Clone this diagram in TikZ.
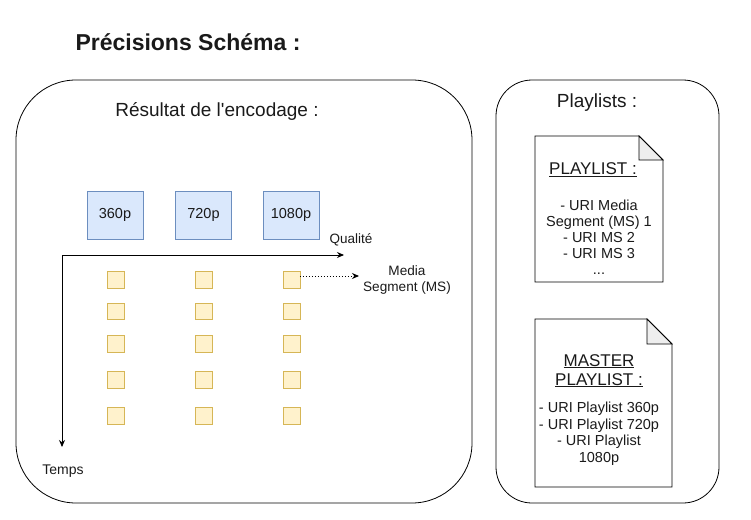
\documentclass[tikz,border=0pt]{standalone}
\usepackage{fontspec}
\setmainfont{Liberation Sans}
\usetikzlibrary{arrows.meta}
\definecolor{bluefill}{HTML}{DAE8FC}
\definecolor{bluedraw}{HTML}{6C8EBF}
\definecolor{yelfill}{HTML}{FFF2CC}
\definecolor{yeldraw}{HTML}{D6B656}
\definecolor{txt}{HTML}{1A1A1A}
\definecolor{foldfill}{HTML}{EEEEEE}
\tikzset{
  qbox/.style={draw=bluedraw,fill=bluefill,minimum width=56pt,minimum height=48pt,inner sep=0pt,font=\fontsize{14.5}{16}\selectfont,text=txt},
  seg/.style={draw=yeldraw,fill=yelfill,minimum size=16.5pt,inner sep=0pt},
  lbl/.style={text=txt,inner sep=0pt,align=center},
  axis/.style={line width=0.9pt,-{Stealth[length=7pt,width=6pt]}},
  docline/.style={draw=black,line width=0.8pt},
  panel/.style={draw=black,line width=0.8pt}
}
\begin{document}
\begin{tikzpicture}[x=1pt,y=-1pt]
\useasboundingbox (0,0) rectangle (751,519);
% title
\node[lbl,font=\fontsize{23}{26}\selectfont\bfseries] (title) at (188,42) {Précisions Schéma :};
% panels
\draw[panel,rounded corners=60pt] (16,80) rectangle (472,503);
\draw[panel,rounded corners=36pt] (496,80) rectangle (719,503);
\node[lbl,font=\fontsize{19}{22}\selectfont] (enc) at (217,111) {Résultat de l\textquotesingle encodage :};
\node[lbl,font=\fontsize{19}{22}\selectfont] (pls) at (597,103) {Playlists :};
% quality boxes
\node[qbox] (q1) at (115,215) {360p};
\node[qbox] (q2) at (203.5,215) {720p};
\node[qbox] (q3) at (291,215) {1080p};
% axes
\coordinate (o) at (62,255);
\coordinate (qend) at (344,255);
\coordinate (tend) at (62,447);
\draw[axis] (o) -- (qend);
\draw[axis] (o) -- (tend);
\node[lbl,font=\fontsize{13.5}{15}\selectfont] (qual) at (351,240) {Qualité};
\node[lbl,font=\fontsize{14}{15}\selectfont] (temps) at (63,471) {Temps};
% segments
\foreach \c/\x in {1/115.5,2/203.5,3/291.5}{
  \foreach \r/\y in {1/279.5,2/311,3/343.5,4/379.5,5/415.5}{
    \node[seg] (s\c\r) at (\x,\y) {};
  }
}
\coordinate (msend) at (359,276);
\draw[line width=1pt,dotted,-{Stealth[length=7pt,width=6pt]}] (s31.east |- msend) -- (msend);
\node[lbl,font=\fontsize{13.6}{16}\selectfont] (ms) at (407,280) {Media\\Segment (MS)};
% playlist doc
\draw[docline,fill=white] (535,136) -- (639,136) -- (663,160) -- (663,282) -- (535,282) -- cycle;
\draw[docline,fill=foldfill] (639,136) -- (639,160) -- (663,160) -- cycle;
\node[lbl,font=\fontsize{17}{19}\selectfont] (pltitle) at (593,170) {\underline{PLAYLIST :}};
\node[lbl,font=\fontsize{14.5}{16}\selectfont,anchor=north] (pltext) at (599,200) {- URI Media\\Segment (MS) 1\\- URI MS 2\\- URI MS 3\\...};
% master doc
\draw[docline,fill=white] (535,319) -- (647,319) -- (672,344) -- (672,487) -- (535,487) -- cycle;
\draw[docline,fill=foldfill] (647,319) -- (647,344) -- (672,344) -- cycle;
\node[lbl,font=\fontsize{17}{19}\selectfont,anchor=north] (mtitle) at (599,354) {\underline{MASTER}\\\underline{PLAYLIST :}};
\node[lbl,font=\fontsize{14.5}{16.5}\selectfont,anchor=north] (mtext) at (599,402) {- URI Playlist 360p\\- URI Playlist 720p\\- URI Playlist\\1080p};
\end{tikzpicture}
\end{document}
